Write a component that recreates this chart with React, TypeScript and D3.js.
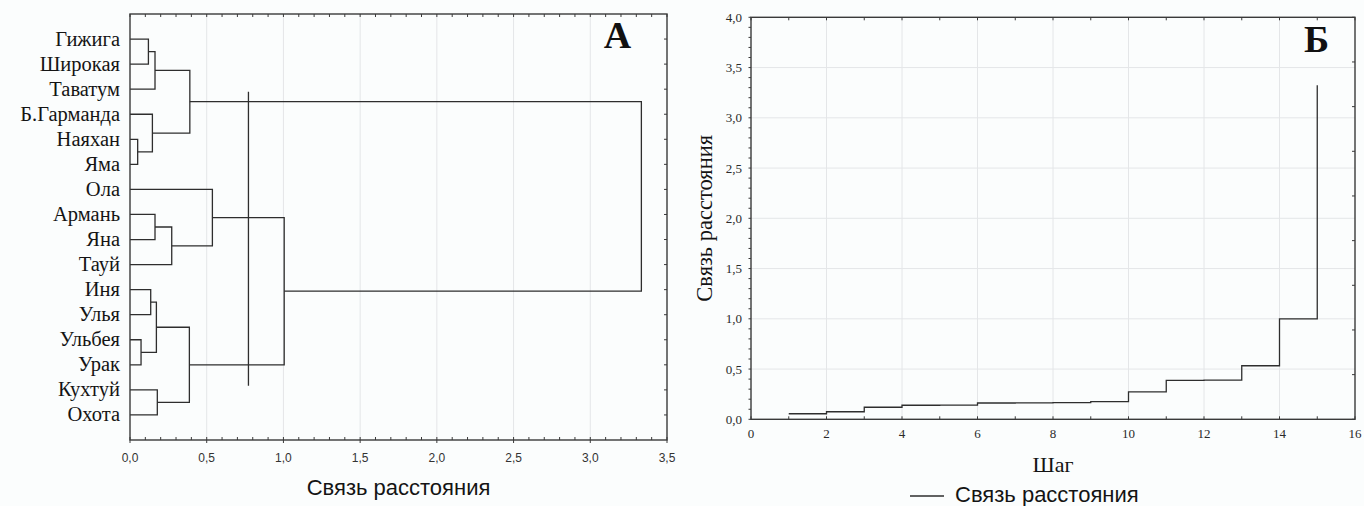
import React, { useEffect, useRef } from "react";
import * as d3 from "d3";

// ---------- DATA ----------
const leaves = [
  "Гижига", "Широкая", "Таватум", "Б.Гарманда", "Наяхан", "Яма", "Ола", "Армань",
  "Яна", "Тауй", "Иня", "Улья", "Ульбея", "Урак", "Кухтуй", "Охота",
];
// linkage: [childA, childB, distance]; leaves are 0..15, clusters 16+
const merges: [number, number, number][] = [
  [4, 5, 0.05],
  [12, 13, 0.072],
  [0, 1, 0.12],
  [10, 11, 0.135],
  [3, 16, 0.146],
  [18, 2, 0.163],
  [7, 8, 0.163],
  [19, 17, 0.172],
  [14, 15, 0.178],
  [22, 9, 0.272],
  [23, 24, 0.387],
  [21, 20, 0.39],
  [6, 25, 0.537],
  [28, 26, 1.005],
  [27, 29, 3.333],
];
const cutDistance = 0.772;
const cutLeafSpan = [2.1, 13.84];

const steps = [1, 2, 3, 4, 5, 6, 7, 8, 9, 10, 11, 12, 13, 14, 15];
const stepValues = [0.055, 0.075, 0.12, 0.14, 0.142, 0.162, 0.163, 0.165, 0.175, 0.272, 0.387, 0.39, 0.533, 1.0, 3.325];

const leftXTicks = [0, 0.5, 1.0, 1.5, 2.0, 2.5, 3.0, 3.5];
const rightXTicks = [0, 2, 4, 6, 8, 10, 12, 14, 16];
const rightYTicks = [0, 0.5, 1.0, 1.5, 2.0, 2.5, 3.0, 3.5, 4.0];

const xTitle = "Связь расстояния";
const yTitle = "Связь расстояния";
const stepTitle = "Шаг";
const legendLabel = "Связь расстояния";

const fmt = (v: number) => d3.format(".1f")(v).replace(".", ",");

export default function App() {
  const ref = useRef<SVGSVGElement | null>(null);

  useEffect(() => {
    const svg = d3.select(ref.current);
    svg.selectAll("*").remove();

    const ink = "#2e2e2e";
    const grid = "#e4e6e8";
    const serif = "'Liberation Serif', 'Times New Roman', serif";
    const sans = "'Liberation Sans', Arial, sans-serif";

    svg.append("rect").attr("width", 1364).attr("height", 506).attr("fill", "#fbfdfd");

    // ================= PANEL A =================
    const L = { x0: 130, x1: 667, y0: 14, y1: 440 };
    const xA = d3.scaleLinear().domain([0, 3.5]).range([L.x0, L.x1]);
    const yA = d3.scaleLinear().domain([-1, leaves.length]).range([L.y0, L.y1]);
    const gA = svg.append("g");

    gA.selectAll("line.grid").data(leftXTicks.slice(1, -1)).enter().append("line")
      .attr("x1", (d) => xA(d)).attr("x2", (d) => xA(d))
      .attr("y1", L.y0).attr("y2", L.y1).attr("stroke", grid).attr("stroke-width", 1);

    const nodeY: number[] = leaves.map((_, i) => yA(i));
    const nodeH: number[] = leaves.map(() => 0);
    const paths: string[] = [];
    merges.forEach(([a, b, h]) => {
      const ya = nodeY[a], yb = nodeY[b];
      const p = d3.path();
      p.moveTo(xA(nodeH[a]), ya);
      p.lineTo(xA(h), ya);
      p.lineTo(xA(h), yb);
      p.lineTo(xA(nodeH[b]), yb);
      paths.push(p.toString());
      nodeY.push((ya + yb) / 2);
      nodeH.push(h);
    });
    gA.selectAll("path.link").data(paths).enter().append("path")
      .attr("d", (d) => d).attr("fill", "none").attr("stroke", ink).attr("stroke-width", 1.3);

    gA.append("line")
      .attr("x1", xA(cutDistance)).attr("x2", xA(cutDistance))
      .attr("y1", yA(cutLeafSpan[0])).attr("y2", yA(cutLeafSpan[1]))
      .attr("stroke", ink).attr("stroke-width", 1.3);

    gA.append("rect").attr("x", L.x0).attr("y", L.y0)
      .attr("width", L.x1 - L.x0).attr("height", L.y1 - L.y0)
      .attr("fill", "none").attr("stroke", "#3a3a3a").attr("stroke-width", 1.4);

    const minorA = d3.range(0, 36).map((i) => i / 10);
    gA.selectAll("line.tt").data(minorA).enter().append("line")
      .attr("x1", (d) => xA(d)).attr("x2", (d) => xA(d))
      .attr("y1", L.y0).attr("y2", L.y0 + 3).attr("stroke", "#3a3a3a");
    gA.selectAll("line.tb").data(minorA).enter().append("line")
      .attr("x1", (d) => xA(d)).attr("x2", (d) => xA(d))
      .attr("y1", L.y1).attr("y2", L.y1 - 3).attr("stroke", "#3a3a3a");
    gA.selectAll("line.tbm").data(leftXTicks).enter().append("line")
      .attr("x1", (d) => xA(d)).attr("x2", (d) => xA(d))
      .attr("y1", L.y1).attr("y2", L.y1 + 3).attr("stroke", "#3a3a3a");
    gA.selectAll("line.tr").data(leaves).enter().append("line")
      .attr("x1", L.x1).attr("x2", L.x1 - 3)
      .attr("y1", (_, i) => yA(i)).attr("y2", (_, i) => yA(i)).attr("stroke", "#3a3a3a");

    gA.selectAll("text.xt").data(leftXTicks).enter().append("text")
      .attr("x", (d) => xA(d)).attr("y", 462).attr("text-anchor", "middle")
      .attr("font-family", sans).attr("font-size", 12).attr("fill", "#333")
      .text((d) => fmt(d));

    gA.selectAll("text.leaf").data(leaves).enter().append("text")
      .attr("x", L.x0 - 10).attr("y", (_, i) => yA(i) + 6.5).attr("text-anchor", "end")
      .attr("font-family", serif).attr("font-size", 20.5).attr("fill", "#141414")
      .text((d) => d);

    gA.append("text").attr("x", (L.x0 + L.x1) / 2).attr("y", 495).attr("text-anchor", "middle")
      .attr("font-family", sans).attr("font-size", 22).attr("fill", "#141414").text(xTitle);

    gA.append("text").attr("x", 617.5).attr("y", 48).attr("text-anchor", "middle")
      .attr("font-family", serif).attr("font-weight", "bold").attr("font-size", 38)
      .attr("fill", "#111").text("А");

    // ================= PANEL B =================
    const R = { x0: 751, x1: 1355, y0: 17.3, y1: 419.3 };
    const xB = d3.scaleLinear().domain([0, 16]).range([R.x0, R.x1]);
    const yB = d3.scaleLinear().domain([0, 4]).range([R.y1, R.y0]);
    const gB = svg.append("g");

    gB.selectAll("line.gx").data(rightXTicks.slice(1, -1)).enter().append("line")
      .attr("x1", (d) => xB(d)).attr("x2", (d) => xB(d))
      .attr("y1", R.y0).attr("y2", R.y1).attr("stroke", grid);
    gB.selectAll("line.gy").data(rightYTicks.slice(1, -1)).enter().append("line")
      .attr("x1", R.x0).attr("x2", R.x1)
      .attr("y1", (d) => yB(d)).attr("y2", (d) => yB(d)).attr("stroke", grid);

    const stepLine = d3.line<number>()
      .x((_, i) => xB(steps[i]))
      .y((d) => yB(d))
      .curve(d3.curveStepAfter);
    gB.append("path").attr("d", stepLine(stepValues) || "")
      .attr("fill", "none").attr("stroke", ink).attr("stroke-width", 1.3);

    gB.append("rect").attr("x", R.x0).attr("y", R.y0)
      .attr("width", R.x1 - R.x0).attr("height", R.y1 - R.y0)
      .attr("fill", "none").attr("stroke", "#3a3a3a").attr("stroke-width", 1.4);

    const minorY = d3.range(0, 41).map((i) => i / 10);
    gB.selectAll("line.ly").data(minorY).enter().append("line")
      .attr("x1", R.x0).attr("x2", R.x0 - 2.5)
      .attr("y1", (d) => yB(d)).attr("y2", (d) => yB(d)).attr("stroke", "#3a3a3a");
    const rightEdge = d3.range(0, 10).map((i) => (i * 4) / 9);
    gB.selectAll("line.ry").data(rightEdge).enter().append("line")
      .attr("x1", R.x1).attr("x2", R.x1 - 3)
      .attr("y1", (d) => yB(d)).attr("y2", (d) => yB(d)).attr("stroke", "#3a3a3a");
    const unitX = d3.range(0, 17);
    gB.selectAll("line.tx").data(unitX).enter().append("line")
      .attr("x1", (d) => xB(d)).attr("x2", (d) => xB(d))
      .attr("y1", R.y0).attr("y2", R.y0 + 3).attr("stroke", "#3a3a3a");
    gB.selectAll("line.bx").data(unitX).enter().append("line")
      .attr("x1", (d) => xB(d)).attr("x2", (d) => xB(d))
      .attr("y1", R.y1).attr("y2", R.y1 - 3).attr("stroke", "#3a3a3a");

    gB.selectAll("text.yt").data(rightYTicks).enter().append("text")
      .attr("x", 742).attr("y", (d) => yB(d) + 4.5).attr("text-anchor", "end")
      .attr("font-family", serif).attr("font-size", 13).attr("fill", "#2a2a2a")
      .text((d) => fmt(d));
    gB.selectAll("text.xtb").data(rightXTicks).enter().append("text")
      .attr("x", (d) => xB(d)).attr("y", 438).attr("text-anchor", "middle")
      .attr("font-family", serif).attr("font-size", 13).attr("fill", "#2a2a2a")
      .text((d) => String(d));

    gB.append("text").attr("x", (R.x0 + R.x1) / 2).attr("y", 471.5).attr("text-anchor", "middle")
      .attr("font-family", serif).attr("font-size", 22).attr("fill", "#141414").text(stepTitle);

    gB.append("text")
      .attr("transform", `translate(712, ${(R.y0 + R.y1) / 2}) rotate(-90)`)
      .attr("text-anchor", "middle")
      .attr("font-family", serif).attr("font-size", 22.5).attr("fill", "#141414").text(yTitle);

    gB.append("text").attr("x", 1316.5).attr("y", 52).attr("text-anchor", "middle")
      .attr("font-family", serif).attr("font-weight", "bold").attr("font-size", 38)
      .attr("fill", "#111").text("Б");

    gB.append("line").attr("x1", 910).attr("x2", 944).attr("y1", 496).attr("y2", 496)
      .attr("stroke", ink).attr("stroke-width", 1.3);
    gB.append("text").attr("x", 955).attr("y", 502).attr("font-family", sans)
      .attr("font-size", 22).attr("fill", "#141414").text(legendLabel);
  }, []);

  return (
    <svg
      ref={ref}
      width={1364}
      height={506}
      style={{ position: "fixed", left: 0, top: 0, display: "block" }}
    />
  );
}
